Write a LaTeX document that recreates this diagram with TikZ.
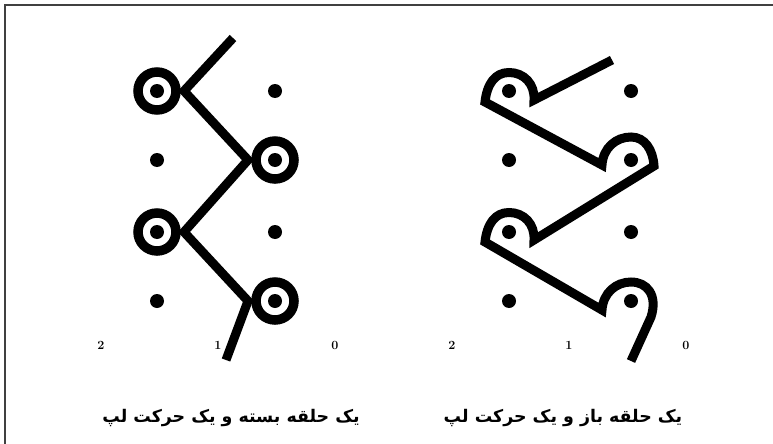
\documentclass[tikz,border=0pt]{standalone}
\usepackage{fontspec}
\usepackage{tikz}
\usetikzlibrary{positioning}
\TeXXeTstate=1
\newfontfamily\arabicfont[Script=Arabic]{DejaVu Sans}

\begin{document}
\begin{tikzpicture}[
    x=1pt, y=-1pt,
    dotmark/.style={draw=none, fill=black, circle, minimum size=14pt, inner sep=0pt},
    ring/.style={draw, circle, line width=9.5pt, minimum size=38pt, inner sep=0pt, outer sep=8pt},
    lap/.style={draw, line width=9pt, miter limit=5},
    digit/.style={font=\fontsize{12.5}{14}\selectfont\bfseries, inner sep=0pt},
    caption/.style={font=\fontsize{17.4}{20}\selectfont\arabicfont\bfseries, inner sep=0pt},
    frameLine/.style={draw=black!75, line width=2pt}
]
    \useasboundingbox (0,0) rectangle (773,444);

    % Frame
    \coordinate (frameTop) at (5,5.5);
    \coordinate (frameRight) at (773,5.5);
    \coordinate (frameBottom) at (5,444);
    \draw[frameLine] (frameRight) -- (frameTop) -- (frameBottom);

    % Closed loops
    \node[ring] (ringA) at (157,91) {};
    \node[ring] (ringB) at (275,160) {};
    \node[ring] (ringC) at (157,232) {};
    \node[ring] (ringD) at (275,301) {};
    \coordinate (startL) at (233,38);
    \coordinate (endL) at (226,360);
    \draw[lap] (startL) -- (ringA.east) -- (ringB.west) -- (ringC.east) -- (ringD.west) -- (endL);

    % Open loops
    \coordinate (startR) at (612,60);
    \coordinate (endR) at (631,361);
    \draw[lap] (startR) -- (534,100)
        .. controls (535,84) and (524,72.5) .. (509,72.5)
        .. controls (495,72.5) and (487,84) .. (485,102)
        -- (602,165)
        .. controls (603,148) and (616,137) .. (631,137)
        .. controls (645,137) and (653,150) .. (654,166)
        -- (534,240)
        .. controls (535,224) and (524,212.5) .. (509,212.5)
        .. controls (495,212.5) and (487,224) .. (485,242)
        -- (602,310)
        .. controls (603,293) and (616,282) .. (631,282)
        .. controls (647,282) and (658,295) .. (651,317)
        -- (endR);

    % Dots
    \foreach \x/\n in {157/a,275/b,509/c,631/d}
        \foreach \y/\m in {91/1,160/2,232/3,301/4}
            \node[dotmark] (dot\n\m) at (\x,\y) {};

    % Digits
    \foreach \x/\t in {101/2,218/1,335/0,452/2,569/1,686/0}
        \node[digit] (digit\x) at (\x,345) {\t};

    % Captions
    \node[caption] (captionL) at (231,418) {\beginR یک حلقه بسته و یک حرکت لپ\endR};
    \node[caption] (captionR) at (563,418) {\beginR یک حلقه باز و یک حرکت لپ\endR};
\end{tikzpicture}
\end{document}
